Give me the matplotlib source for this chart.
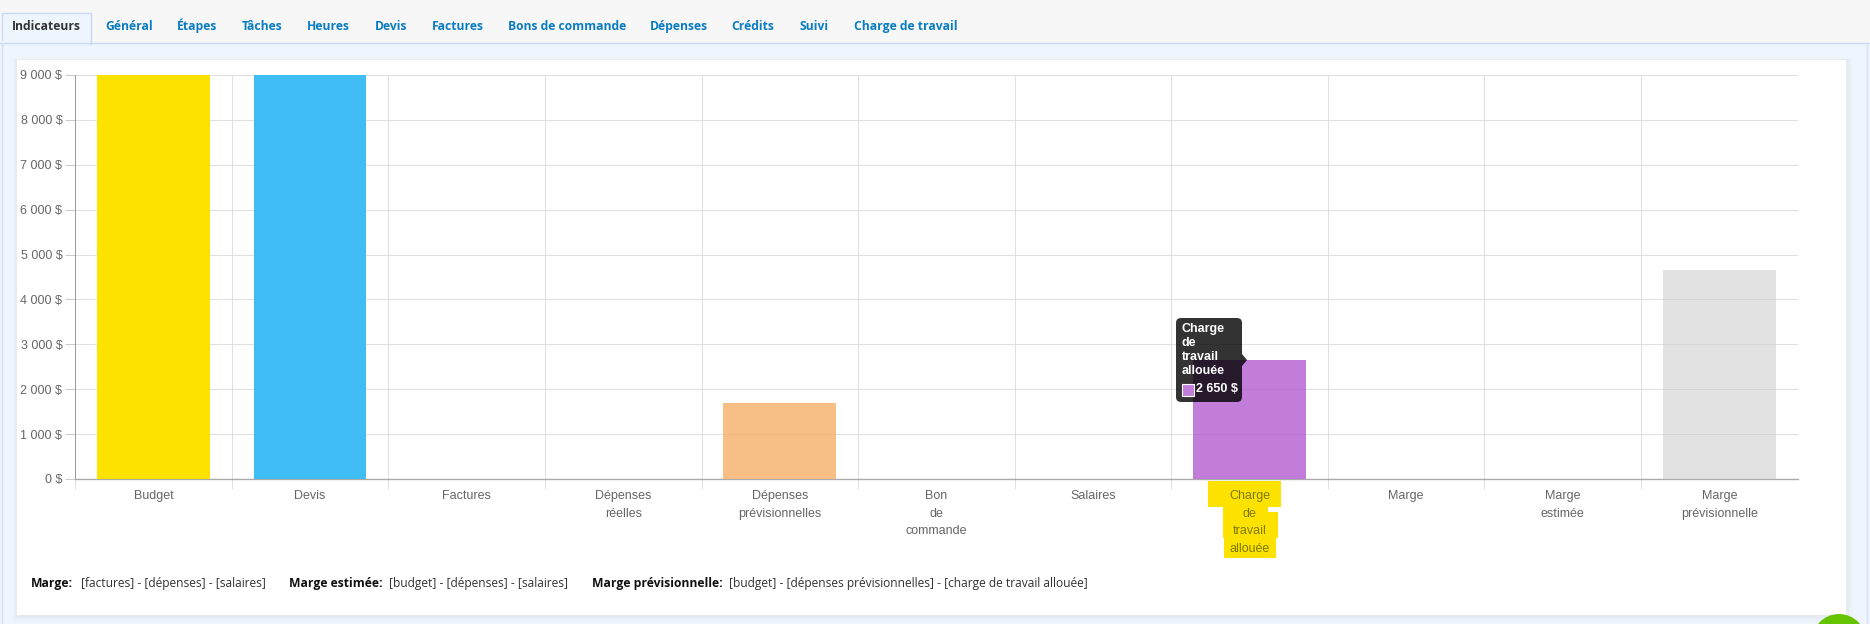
import matplotlib
matplotlib.use("Agg")
import matplotlib.pyplot as plt
from matplotlib.patches import Rectangle, FancyBboxPatch, Circle, Polygon
from matplotlib.ticker import FuncFormatter, FixedLocator

categories = ["Budget", "Devis", "Factures", "Dépenses\nréelles", "Dépenses\nprévisionnelles",
              "Bon\nde\ncommande", "Salaires", "Charge\nde\ntravail\nallouée", "Marge",
              "Marge\nestimée", "Marge\nprévisionnelle"]
values = [9000, 9000, 0, 0, 1700, 0, 0, 2650, 0, 0, 4650]
bar_colors = ["#FDE200", "#40BDF5", "#FFFFFF", "#FFFFFF", "#F5B068", "#FFFFFF", "#FFFFFF",
              "#B35DD2", "#FFFFFF", "#FFFFFF", "#D0D0D0"]
bar_alpha = [1, 1, 1, 1, .8, 1, 1, .8, 1, 1, .6]
tabs = ["Indicateurs", "Général", "Étapes", "Tâches", "Heures", "Devis", "Factures",
        "Bons de commande", "Dépenses", "Crédits", "Suivi", "Charge de travail"]
tab_x = [12, 105, 176.5, 242, 306.5, 374.5, 432, 508, 650, 731, 800, 854]
yticks = list(range(0, 10000, 1000))

W, H = 1870, 624
fig = plt.figure(figsize=(W / 100, H / 100), dpi=100, facecolor="#EFF5FD")

# Page background, in pixel coordinates
bg = fig.add_axes([0, 0, 1, 1], zorder=0)
bg.set_xlim(0, W); bg.set_ylim(H, 0); bg.axis("off")
bg.add_patch(Rectangle((0, 0), W, 43, fc="#F7F7F7", ec="none"))
bg.plot([0, W], [43, 43], color="#C9D8F5", lw=1)
bg.plot([2, 2], [43, H], color="#D5E0F5", lw=1)
bg.plot([1867, 1867], [43, H], color="#D5E0F5", lw=1)
bg.add_patch(Rectangle((1.5, 12.5), 89, 31, fc="#EFF5FD", ec="#C9D8F5", lw=1))
bg.add_patch(Rectangle((2, 41), 88, 4, fc="#EFF5FD", ec="none"))
for i, (t, x) in enumerate(zip(tabs, tab_x)):
    bg.text(x, 30, t, family="Open Sans", weight="bold", fontsize=8.7,
            color="#333333" if i == 0 else "#0A7CC2", va="baseline", ha="left")
# card with soft shadow, falling mostly to the lower right
for k, a in [(7, .012), (4.5, .02), (2.5, .03)]:
    bg.add_patch(Rectangle((15.5 - k / 3, 58.5), 1830.5 + 4 * k / 3, 556.5 + k, fc="#506070", ec="none", alpha=a))
bg.add_patch(Rectangle((15.5, 58.5), 1830.5, 556.5, fc="#FFFFFF", ec="#E8E8E8", lw=.6))
# highlight behind the selected axis label
for x0, x1, y0, y1 in [(1208, 1281, 481, 507), (1223, 1268, 507, 512), (1223, 1278, 512, 538), (1224, 1276, 538, 558)]:
    bg.add_patch(Rectangle((x0, y0), x1 - x0, y1 - y0, fc="#FDE200", ec="none"))
# footer
foot = [(31, "Marge:", True), (81, "[factures] - [dépenses] - [salaires]", False),
        (289, "Marge estimée:", True), (389, "[budget] - [dépenses] - [salaires]", False),
        (592, "Marge prévisionnelle:", True), (729, "[budget] - [dépenses prévisionnelles] - [charge de travail allouée]", False)]
for x, t, b in foot:
    bg.text(x, 587, t, family="Open Sans", weight="bold" if b else "normal",
            fontsize=8.7 if b else 8.65, color="#111111" if b else "#333333", va="baseline")
bg.add_patch(Circle((1839, 641), 27, fc="#66C300", ec="none"))

# Chart
L, R, T, B = 75.2, 1797.6, 75, 479
ax = fig.add_axes([L / W, 1 - B / H, (R - L) / W, (B - T) / H], zorder=1)
ax.patch.set_alpha(0)
pos = list(range(len(categories)))
bars = ax.bar(pos, values, width=0.72, color=bar_colors, zorder=3)
for b, a in zip(bars, bar_alpha):
    b.set_alpha(a)
ax.set_xlim(-0.5, len(categories) - 0.5)
ax.set_ylim(0, 9000)
ax.set_yticks(yticks)
ax.yaxis.set_major_formatter(FuncFormatter(lambda v, _: f"{int(v):,} $".replace(",", " ")))
ax.set_xticks(pos)
ax.set_xticklabels(categories, family="Liberation Sans", fontsize=9, color="#666666", linespacing=1.63)
ax.xaxis.set_minor_locator(FixedLocator([p - 0.5 for p in pos]))
ax.tick_params(axis="x", which="major", length=0, pad=8)
ax.tick_params(axis="x", which="minor", length=7.2, width=.7, color="#E0E0E0")
ax.tick_params(axis="y", length=7.2, width=.7, color="#C8C8C8", pad=2, labelsize=9, labelcolor="#666666")
for lab in ax.get_yticklabels():
    lab.set_family("Liberation Sans")
ax.get_xticklabels()[7].set_color("#7F7A00")
ax.set_axisbelow(True)
ax.grid(True, axis="y", color="#E0E0E0", lw=.75)
ax.grid(True, axis="x", which="minor", color="#E0E0E0", lw=.75)
ax.grid(False, axis="x", which="major")
ax.xaxis.get_minorticklines()[0].set_color("#999999")
for s in ("top", "right"):
    ax.spines[s].set_visible(False)
ax.spines["left"].set_color("#999999"); ax.spines["left"].set_linewidth(.7)
ax.spines["bottom"].set_color("#AAAAAA"); ax.spines["bottom"].set_linewidth(1)

# Tooltip
ov = fig.add_axes([0, 0, 1, 1], zorder=2)
ov.set_xlim(0, W); ov.set_ylim(H, 0); ov.axis("off")
ov.add_patch(FancyBboxPatch((1180, 322), 58, 76, boxstyle="round,pad=4,rounding_size=5",
                            fc="#000000", ec="none", alpha=.8))
ov.add_patch(Polygon([(1242, 354), (1247, 360), (1242, 366)], fc="#000000", ec="none", alpha=.8))
for t, y in zip(["Charge", "de", "travail", "allouée"], [329, 343, 357, 371.5]):
    ov.text(1182, y, t, family="Liberation Sans", weight="bold", fontsize=9, color="white", va="center")
ov.add_patch(Rectangle((1182, 384), 11.5, 11.5, fc="#C27DDB", ec="white", lw=.8))
ov.text(1196, 389, f"{values[7]:,} $".replace(",", " "), family="Liberation Sans", weight="bold",
        fontsize=9, color="white", va="center")

fig.savefig("out.png", dpi=100, facecolor=fig.get_facecolor())
